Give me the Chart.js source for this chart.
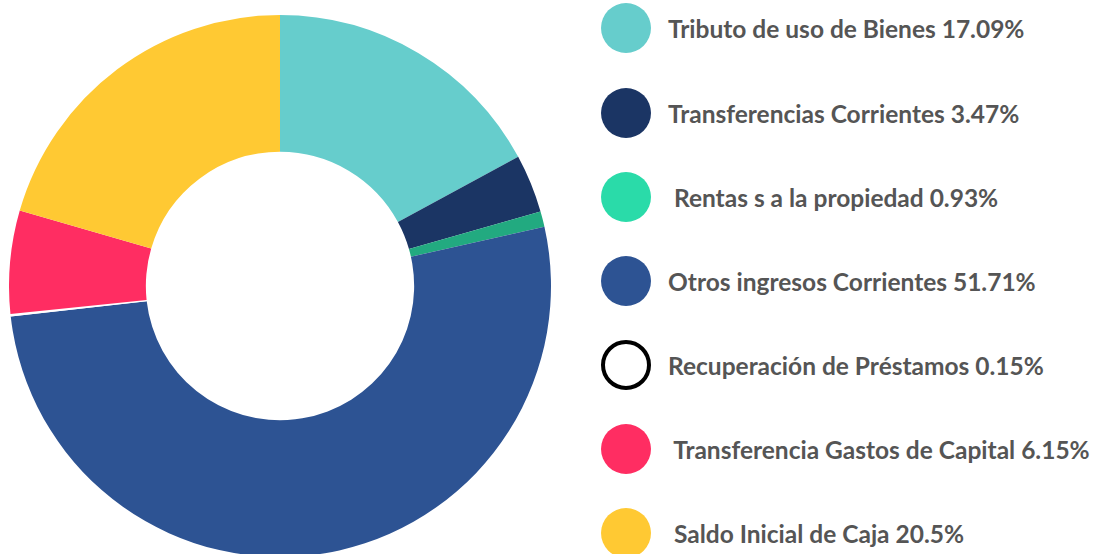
<!DOCTYPE html>
<html><head><meta charset="utf-8">
<script src="https://cdn.jsdelivr.net/npm/chart.js@4/dist/chart.umd.min.js"></script>
<style>
html,body{margin:0;padding:0;background:#fff;width:1099px;height:554px;overflow:hidden;position:relative;}
#wrap{position:absolute;left:9px;top:15px;width:542px;height:542px;}
#legend{position:absolute;left:601px;top:0;}
.row{position:absolute;left:0;height:50px;display:flex;align-items:center;white-space:pre;}
.dot{width:50px;height:50px;border-radius:50%;box-sizing:border-box;flex:none;}
.lbl{margin-left:17px;font-family:Lato,"Open Sans",sans-serif;font-weight:700;font-size:24.5px;color:#555555;}
</style></head>
<body>
<div id="wrap"><canvas id="c" width="542" height="542"></canvas></div>
<div id="legend"></div>
<script>
const labels = ["Tributo de uso de Bienes","Transferencias Corrientes","Rentas s a la propiedad","Otros ingresos Corrientes","Recuperación de Préstamos","Transferencia Gastos de Capital","Saldo Inicial de Caja"];
const legendPrefix = ["","",  " ", "", "", " ", " "];
const values = [17.09, 3.47, 0.93, 51.71, 0.15, 6.15, 20.5];
const sliceColors = ["#66CDCC","#1B3564","#22AA80","#2D5393","#FFFFFF","#FF2D62","#FFC933"];
const legendColors = ["#66CDCC","#1B3564","#2ADBA9","#2D5393","#FFFFFF","#FF2D62","#FFC933"];

new Chart(document.getElementById('c'), {
  type: 'doughnut',
  data: { labels: labels, datasets: [{ data: values, backgroundColor: sliceColors, borderWidth: 0 }] },
  options: {
    responsive: false, animation: false, cutout: '49.5%',
    layout: { padding: 0 },
    plugins: { legend: { display: false }, tooltip: { enabled: false } }
  }
});

const lg = document.getElementById('legend');
const rowTops = [3, 88, 172, 256, 340, 424, 508];
labels.forEach((l, i) => {
  const r = document.createElement('div'); r.className = 'row'; r.style.top = rowTops[i] + 'px';
  const d = document.createElement('div'); d.className = 'dot'; d.style.background = legendColors[i];
  if (legendColors[i] === '#FFFFFF') d.style.border = '4px solid #000';
  const t = document.createElement('span'); t.className = 'lbl';
  t.textContent = legendPrefix[i] + l + ' ' + values[i] + '%';
  r.appendChild(d); r.appendChild(t); lg.appendChild(r);
});
</script>
</body></html>
